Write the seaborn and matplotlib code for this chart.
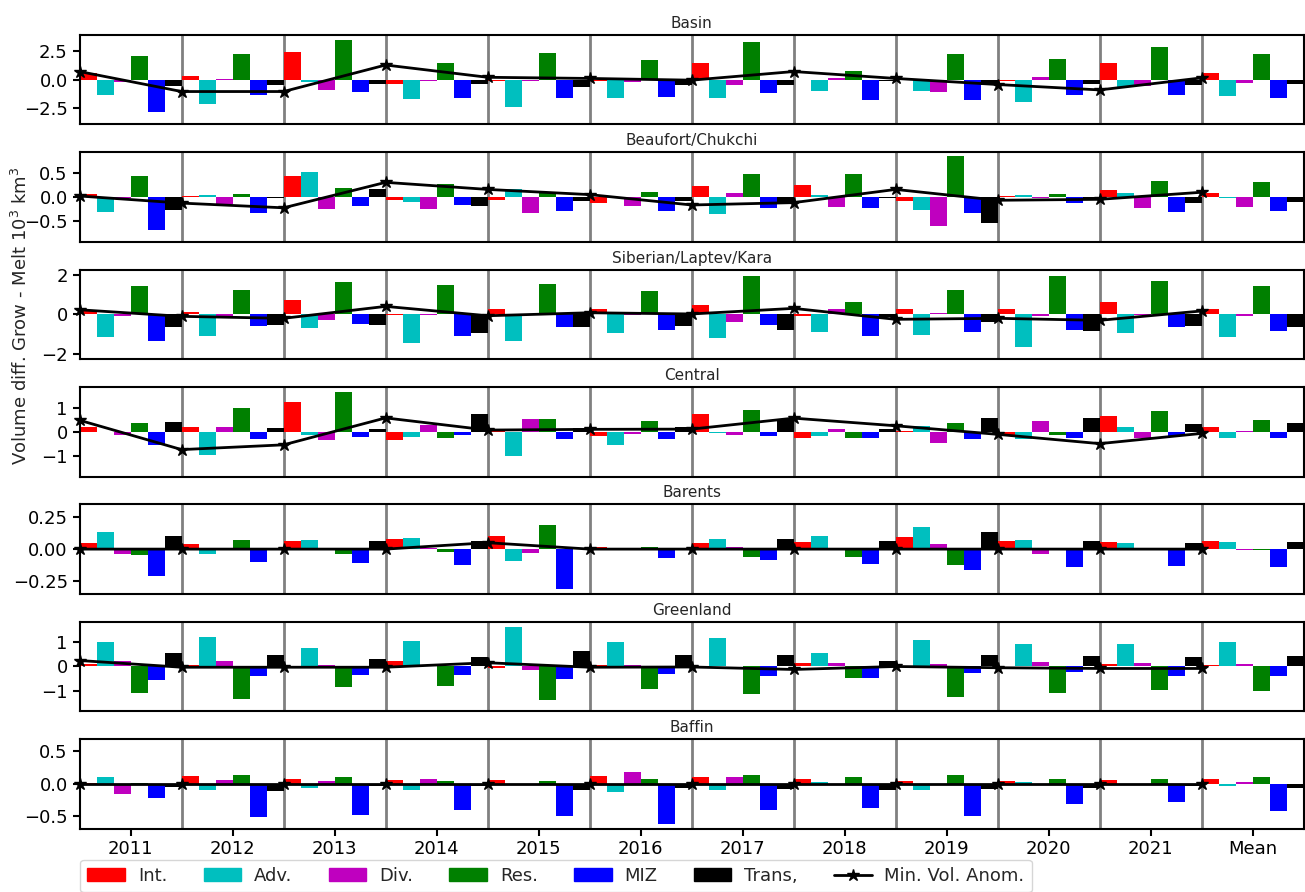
import seaborn as sns
import matplotlib.pyplot as plt
import pandas as pd
import numpy as np
from matplotlib.patches import Patch
from matplotlib.lines import Line2D

sns.set_theme(style="ticks", rc={"axes.edgecolor": "black", "axes.linewidth": 1.5,
                                 "xtick.color": "black", "ytick.color": "black"})
plt.rcParams["font.family"] = ["DejaVu Sans"]
plt.rcParams["font.size"] = 13

# categorias
years = ["2011", "2012", "2013", "2014", "2015", "2016", "2017", "2018", "2019", "2020", "2021", "Mean"]
terms = ["Int.", "Adv.", "Div.", "Res.", "MIZ", "Trans,"]
colors = ["#ff0000", "#00bfbf", "#bf00bf", "#008000", "#0000ff", "#000000"]
regions = ["Basin", "Beaufort/Chukchi", "Siberian/Laptev/Kara", "Central", "Barents", "Greenland", "Baffin"]

# valores por region: una fila por termino (Int, Adv, Div, Res, MIZ, Trans)
basin = [
    [0.6, 0.3, 2.4, -0.35, -0.15, -0.1, 1.45, -0.05, 0.05, -0.1, 1.45, 0.6],
    [-1.3, -2.1, -0.25, -1.68, -2.37, -1.6, -1.6, -1.0, -1.0, -1.93, -0.65, -1.4],
    [-0.25, 0.05, -0.9, -0.1, -0.1, -0.25, -0.45, 0.15, -1.07, 0.25, -0.55, -0.28],
    [2.05, 2.2, 3.44, 1.45, 2.3, 1.7, 3.27, 0.75, 2.2, 1.8, 2.83, 2.2],
    [-2.8, -1.3, -1.07, -1.6, -1.6, -1.5, -1.15, -1.76, -1.76, -1.3, -1.3, -1.6],
    [-0.55, -0.5, -0.35, -0.4, -0.65, -0.5, -0.5, -0.1, -0.5, -0.4, -0.45, -0.4],
]
beaufort = [
    [0.07, 0.01, 0.44, -0.07, -0.07, -0.13, 0.23, 0.25, -0.08, 0.01, 0.14, 0.08],
    [-0.31, 0.05, 0.52, -0.1, 0.16, -0.02, -0.36, 0.04, -0.28, 0.04, 0.08, -0.02],
    [-0.02, -0.15, -0.26, -0.26, -0.33, -0.2, 0.08, -0.21, -0.61, -0.03, -0.23, -0.21],
    [0.44, 0.07, 0.2, 0.28, 0.11, 0.1, 0.48, 0.48, 0.86, 0.06, 0.34, 0.32],
    [-0.7, -0.33, -0.2, -0.18, -0.29, -0.3, -0.23, -0.23, -0.34, -0.12, -0.32, -0.3],
    [-0.28, -0.03, 0.16, -0.2, -0.09, -0.08, -0.12, -0.02, -0.55, -0.07, -0.12, -0.1],
]
siberian = [
    [0.23, 0.1, 0.7, -0.05, 0.25, 0.25, 0.45, -0.08, 0.27, 0.27, 0.62, 0.27],
    [-1.15, -1.1, -0.7, -1.45, -1.35, -0.95, -1.18, -0.88, -1.03, -1.63, -0.93, -1.13],
    [-0.1, -0.07, -0.3, -0.05, -0.02, -0.02, -0.37, 0.26, 0.07, -0.1, -0.05, -0.07],
    [1.4, 1.2, 1.6, 1.45, 1.5, 1.15, 1.95, 0.62, 1.22, 1.95, 1.66, 1.42],
    [-1.35, -0.6, -0.5, -1.1, -0.65, -0.77, -0.53, -1.08, -0.88, -0.78, -0.63, -0.83],
    [-0.63, -0.53, -0.55, -0.95, -0.65, -0.57, -0.77, -0.15, -0.4, -0.83, -0.57, -0.63],
]
central = [
    [0.2, 0.2, 1.23, -0.35, 0.05, -0.17, 0.74, -0.25, 0.05, -0.2, 0.66, 0.2],
    [-0.02, -0.97, -0.14, -0.22, -1.0, -0.55, -0.05, -0.17, 0.23, -0.3, 0.2, -0.25],
    [-0.12, 0.2, -0.35, 0.3, 0.53, -0.1, -0.12, 0.1, -0.46, 0.44, -0.25, 0.02],
    [0.36, 0.98, 1.65, -0.26, 0.53, 0.45, 0.9, -0.25, 0.36, -0.15, 0.86, 0.48],
    [-0.55, -0.3, -0.22, -0.14, -0.3, -0.3, -0.2, -0.25, -0.3, -0.25, -0.16, -0.25],
    [0.4, 0.15, 0.11, 0.74, 0.17, 0.2, 0.55, 0.1, 0.57, 0.57, 0.33, 0.37],
]
barents = [
    [0.047, 0.04, 0.062, 0.078, 0.1, 0.02, 0.047, 0.055, 0.093, 0.062, 0.055, 0.062],
    [0.13, -0.04, 0.07, 0.085, -0.09, 0.003, 0.078, 0.1, 0.17, 0.07, 0.047, 0.055],
    [-0.035, 0.003, 0.005, 0.005, -0.03, 0.003, 0.02, 0.003, 0.04, -0.035, 0.005, -0.005],
    [-0.045, 0.07, -0.035, -0.023, 0.185, 0.02, -0.06, -0.06, -0.125, 0.005, 0.002, -0.005],
    [-0.21, -0.1, -0.11, -0.125, -0.31, -0.07, -0.085, -0.115, -0.16, -0.14, -0.13, -0.14],
    [0.1, 0.003, 0.06, 0.065, 0.003, 0.003, 0.078, 0.062, 0.13, 0.062, 0.047, 0.055],
]
greenland = [
    [0.1, 0.05, 0.02, 0.22, -0.05, 0.05, 0.02, 0.15, 0.02, 0.02, 0.1, 0.07],
    [1.0, 1.2, 0.75, 1.03, 1.6, 1.0, 1.15, 0.55, 1.07, 0.91, 0.91, 1.0],
    [0.23, 0.23, 0.05, 0.05, -0.13, 0.06, 0.03, 0.15, 0.1, 0.19, 0.15, 0.1],
    [-1.05, -1.3, -0.82, -0.78, -1.34, -0.9, -1.1, -0.45, -1.22, -1.06, -0.94, -0.98],
    [-0.53, -0.37, -0.33, -0.33, -0.5, -0.3, -0.37, -0.45, -0.25, -0.21, -0.37, -0.37],
    [0.55, 0.47, 0.3, 0.37, 0.63, 0.47, 0.47, 0.23, 0.47, 0.43, 0.39, 0.43],
]
baffin = [
    [0.01, 0.12, 0.08, 0.06, 0.06, 0.12, 0.11, 0.08, 0.05, 0.05, 0.06, 0.08],
    [0.11, -0.1, -0.07, -0.09, 0.003, -0.12, -0.1, 0.03, -0.1, 0.03, 0.003, -0.04],
    [-0.15, 0.06, 0.05, 0.08, 0.003, 0.19, 0.1, -0.02, 0.003, -0.02, 0.003, 0.03],
    [0.02, 0.14, 0.11, 0.05, 0.05, 0.08, 0.13, 0.1, 0.13, 0.07, 0.08, 0.1],
    [-0.21, -0.51, -0.48, -0.4, -0.5, -0.62, -0.4, -0.37, -0.49, -0.31, -0.28, -0.42],
    [-0.05, -0.11, -0.03, -0.04, -0.09, -0.07, -0.08, -0.1, -0.08, -0.06, -0.04, -0.06],
]

# anomalia de volumen minimo (en los limites entre anos)
basin_anom = [0.7, -1.04, -1.04, 1.27, 0.2, 0.1, -0.05, 0.7, 0.1, -0.43, -0.9, 0.15]
beaufort_anom = [0.02, -0.13, -0.23, 0.31, 0.16, 0.05, -0.17, -0.12, 0.16, -0.07, -0.05, 0.1]
siberian_anom = [0.23, -0.1, -0.2, 0.4, -0.07, 0.08, 0.02, 0.3, -0.25, -0.2, -0.3, 0.17]
central_anom = [0.48, -0.75, -0.55, 0.58, 0.07, 0.1, 0.11, 0.57, 0.25, -0.11, -0.5, -0.07]
barents_anom = [0.0, 0.0, 0.0, 0.0, 0.05, 0.0, 0.0, 0.0, 0.0, 0.0, 0.0, 0.0]
greenland_anom = [0.24, -0.03, -0.03, -0.03, 0.15, -0.03, -0.02, -0.12, 0.0, -0.05, -0.08, -0.08]
baffin_anom = [0.0, 0.0, 0.0, 0.0, 0.0, 0.0, 0.0, 0.0, 0.0, 0.0, 0.0, 0.0]

bars = [basin, beaufort, siberian, central, barents, greenland, baffin]
anoms = [basin_anom, beaufort_anom, siberian_anom, central_anom, barents_anom, greenland_anom, baffin_anom]
ylims = [3.9, 0.95, 2.25, 1.88, 0.35, 1.8, 0.69]
yticks = [[-2.5, 0.0, 2.5], [-0.5, 0.0, 0.5], [-2, 0, 2], [-1, 0, 1],
          [-0.25, 0.0, 0.25], [-1, 0, 1], [-0.5, 0.0, 0.5]]

fig, axes = plt.subplots(7, 1, figsize=(13.05, 8.92), dpi=100)
fig.subplots_adjust(left=0.061, right=0.999, top=0.961, bottom=0.071, hspace=0.31)

for k, ax in enumerate(axes):
    df = pd.DataFrame({
        "year": np.tile(years, len(terms)),
        "term": np.repeat(terms, len(years)),
        "value": np.concatenate(bars[k]),
    })
    sns.barplot(data=df, x="year", y="value", hue="term", order=years, hue_order=terms,
                palette=colors, width=1.0, saturation=1, errorbar=None, linewidth=0,
                legend=False, ax=ax, zorder=2)
    for b in range(len(years) - 1):
        ax.axvline(b + 0.5, color="#808080", lw=2, zorder=1)
    xb = np.arange(len(anoms[k])) - 0.5
    ax.plot(xb, anoms[k], color="#000000", marker="*", lw=2, ms=9, zorder=4, clip_on=False)
    ax.set_xlim(-0.5, len(years) - 0.5)
    ax.set_ylim(-ylims[k], ylims[k])
    ax.set_yticks(yticks[k])
    ax.set_title(regions[k], fontsize=11, pad=5)
    ax.set_xlabel("")
    ax.set_ylabel("")
    ax.tick_params(axis="y", labelsize=13, width=1.5, length=5)
    if k < len(axes) - 1:
        ax.tick_params(axis="x", bottom=False, labelbottom=False)
    else:
        ax.tick_params(axis="x", labelsize=13, width=1.5, length=5)

fig.text(0.016, 0.646, "Volume diff. Grow - Melt 10$^3$ km$^3$", rotation=90,
         va="center", ha="center", fontsize=13)

handles = [Patch(facecolor=c, edgecolor=c) for c in colors]
handles.append(Line2D([], [], color="#000000", marker="*", lw=2, ms=9))
labels = terms + ["Min. Vol. Anom."]
fig.legend(handles, labels, loc="upper left", bbox_to_anchor=(0.0615, 0.036), ncol=7,
           fontsize=13, handlelength=2.1, columnspacing=2.0, handletextpad=0.7,
           frameon=True, edgecolor="#cccccc", fancybox=True, borderaxespad=0)

fig.savefig("out.png", dpi=100)
